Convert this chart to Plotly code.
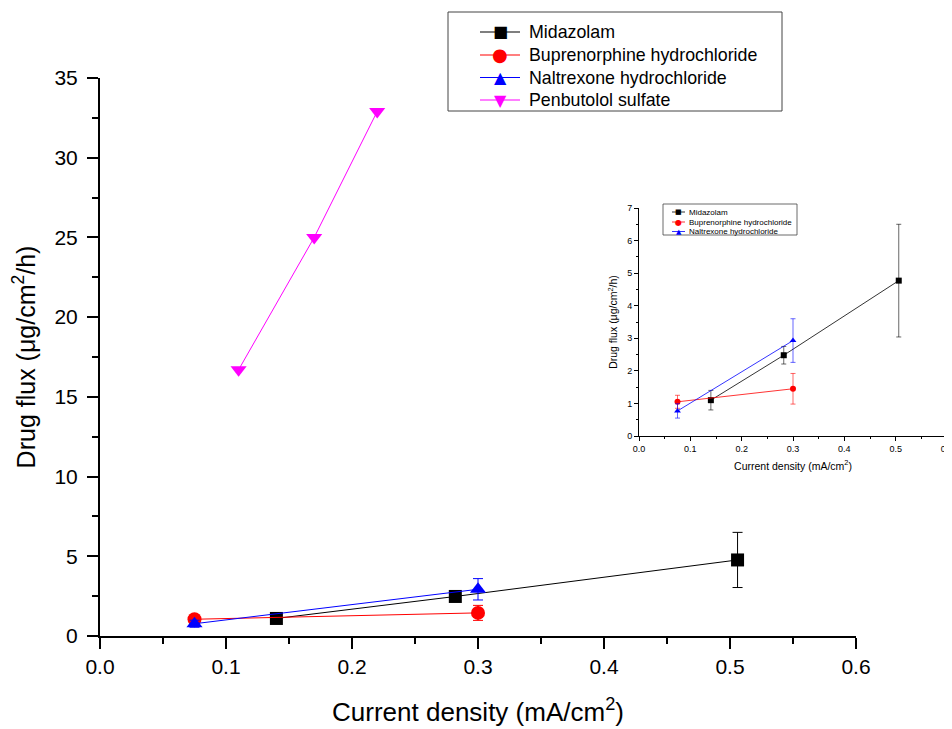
import plotly.graph_objects as go

# Data
mid_x = [0.14, 0.282, 0.506]
mid_y = [1.10, 2.48, 4.77]
mid_err = [0.30, 0.27, 1.73]

bup_x = [0.075, 0.30]
bup_y = [1.05, 1.45]
bup_err = [0.20, 0.47]

nal_x = [0.075, 0.30]
nal_y = [0.77, 2.93]
nal_err = [0.22, 0.67]

pen_x = [0.110, 0.170, 0.220]
pen_y = [16.7, 25.0, 32.9]

names = ["Midazolam", "Buprenorphine hydrochloride", "Naltrexone hydrochloride", "Penbutolol sulfate"]
colors = ["#000000", "#ff0000", "#0000ff", "#ff00ff"]
symbols = ["square", "circle", "triangle-up", "triangle-down"]
glyphs = ["■", "●", "▲", "▼"]

FONT = "Arial, Liberation Sans, sans-serif"
W, H = 952, 729
OFF = 8  # page body margin


def px(x):
    return (x - OFF) / W


def py(y):
    return 1 - (y - OFF) / H


fig = go.Figure()

series = [(mid_x, mid_y, mid_err), (bup_x, bup_y, bup_err), (nal_x, nal_y, nal_err), (pen_x, pen_y, None)]

# Main plot traces
for (xs, ys, es), name, c, s in zip(series, names, colors, symbols):
    fig.add_trace(go.Scatter(
        x=xs, y=ys, name=name, mode="lines+markers", showlegend=False,
        line=dict(color=c, width=1),
        marker=dict(symbol=s, size=14 if s != "square" else 13, color=c),
        error_y=(dict(type="data", array=es, visible=True, color=c, thickness=1, width=5) if es else None),
        xaxis="x", yaxis="y",
    ))

# Inset traces (first three)
for (xs, ys, es), name, c, s in list(zip(series, names, colors, symbols))[:3]:
    fig.add_trace(go.Scatter(
        x=xs, y=ys, name=name, mode="lines+markers", showlegend=False,
        line=dict(color=c, width=0.8),
        marker=dict(symbol=s, size=6, color=c),
        error_y=dict(type="data", array=es, visible=True, color=c, thickness=0.6, width=2.5),
        xaxis="x2", yaxis="y2",
    ))

shapes = []
annotations = []


def add_legend(box, rows, line_x, mark_x, text_x, n, font_size, glyph_sizes, lw, bw):
    bx0, bx1, by0, by1 = box
    shapes.append(dict(type="rect", xref="paper", yref="paper",
                       x0=px(bx0), x1=px(bx1), y0=py(by1), y1=py(by0),
                       line=dict(color="#444", width=bw), fillcolor="white", layer="above"))
    for name, c, g, gs, ry in zip(names[:n], colors[:n], glyphs[:n], glyph_sizes, rows):
        shapes.append(dict(type="line", xref="paper", yref="paper",
                           x0=px(line_x[0]), x1=px(line_x[1]), y0=py(ry), y1=py(ry),
                           line=dict(color=c, width=lw), layer="above"))
        annotations.append(dict(text=g, x=px(mark_x), y=py(ry), xref="paper", yref="paper",
                                showarrow=False, xanchor="center", yanchor="middle",
                                font=dict(size=gs, color=c, family="DejaVu Sans")))
        annotations.append(dict(text=name, x=px(text_x), y=py(ry), xref="paper", yref="paper",
                                showarrow=False, xanchor="left", yanchor="middle",
                                font=dict(size=font_size, color="black", family=FONT)))


# Main legend
add_legend((448, 782, 12, 111), [32, 55, 77.5, 100], (480, 520), 500, 527, 4, 17.8,
           [16, 18, 16, 16], 1.2, 1)
# Inset legend
add_legend((663, 797, 204, 235), [212, 222, 231.5], (672, 685), 678.5, 687, 3, 8,
           [7, 8, 7], 0.8, 0.8)

axis_common = dict(showgrid=False, zeroline=False, showline=True, linecolor="black",
                   ticks="outside", tickcolor="black", automargin=False)

fig.update_layout(
    width=W, height=H,
    margin=dict(l=0, r=0, t=0, b=0),
    paper_bgcolor="white", plot_bgcolor="white",
    font=dict(family=FONT, color="black"),
    showlegend=False,
    shapes=shapes, annotations=annotations,
    xaxis=dict(**axis_common, domain=[px(100), px(856)], range=[0, 0.6], anchor="y",
               dtick=0.1, tickformat=".1f", linewidth=2, ticklen=11, tickwidth=2,
               minor=dict(ticks="outside", dtick=0.05, ticklen=6, tickwidth=1.5, tickcolor="black"),
               tickfont=dict(size=21),
               title=dict(text="Current density (mA/cm<sup>2</sup>)", font=dict(size=26), standoff=26)),
    yaxis=dict(**axis_common, domain=[py(636), py(78)], range=[0, 35], anchor="x",
               dtick=5, linewidth=2, ticklen=11, tickwidth=2,
               minor=dict(ticks="outside", dtick=2.5, ticklen=6, tickwidth=1.5, tickcolor="black"),
               tickfont=dict(size=21), ticklabelstandoff=5,
               title=dict(text="Drug flux (μg/cm<sup>2</sup>/h)", font=dict(size=25), standoff=12)),
    xaxis2=dict(**axis_common, domain=[px(639), px(947)], range=[0, 0.6], anchor="y2",
                dtick=0.1, tickformat=".1f", linewidth=1, ticklen=4, tickwidth=1,
                minor=dict(ticks="outside", dtick=0.05, ticklen=2, tickwidth=0.8, tickcolor="black"),
                tickfont=dict(size=9),
                title=dict(text="Current density (mA/cm<sup>2</sup>)", font=dict(size=10.5), standoff=9)),
    yaxis2=dict(**axis_common, domain=[py(436), py(208)], range=[0, 7], anchor="x2",
                dtick=1, linewidth=1, ticklen=4, tickwidth=1,
                minor=dict(ticks="outside", dtick=0.5, ticklen=2, tickwidth=0.8, tickcolor="black"),
                tickfont=dict(size=9),
                title=dict(text="Drug flux (μg/cm<sup>2</sup>/h)", font=dict(size=10.5), standoff=7)),
)

fig.write_html("out.html")
